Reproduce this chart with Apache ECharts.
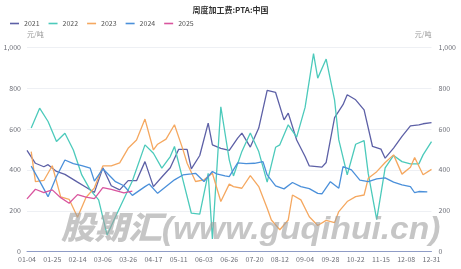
<!DOCTYPE html>
<html><head><meta charset="utf-8">
<script src="https://cdn.jsdelivr.net/npm/echarts@6/dist/echarts.min.js"></script>
<style>html,body{margin:0;padding:0;background:#fff}#c{width:461px;height:269px}</style>
</head><body><div id="c"></div>
<script>
const _ = null;
const titleText = '周度加工费:PTA:中国';
const unitText = '元/吨';
const watermarkText = '股期汇(www.guqihui.cn)';
const tickLabels = ['01-04','01-25','02-14','03-06','03-26','04-17','05-11','06-03','06-26','07-20','08-12','09-04','09-28','10-22','11-15','12-08','12-31'];
const years = ['2021','2022','2023','2024','2025'];
const yTicks = [0, 200, 400, 600, 800, 1000];

const v2021 = [495,_,432,_,415,425,_,392,_,378,
  _,_,340,_,315,_,290,_,410,_,
  322,_,302,_,347,_,347,_,440,_,
  318,_,365,_,410,_,500,_,500,405,
  _,470,_,628,522,_,505,_,495,_,
  555,579,_,511,_,604,_,788,_,778,
  _,644,677,_,546,_,465,419,_,_,
  413,436,_,655,_,718,767,_,742,_,
  693,_,514,_,501,457,_,506,_,563,
  _,615,_,620,625,_,631];
const v2022 = [_,604,_,701,_,636,_,538,_,579,
  _,497,_,375,_,302,_,253,_,82,
  _,_,215,_,_,345,_,_,522,_,
  481,_,408,_,465,514,_,351,_,188,
  _,184,_,383,62,_,708,_,449,370,
  _,490,_,580,_,489,_,340,_,510,
  522,_,620,_,560,_,705,_,968,848,
  _,941,_,740,546,_,375,_,525,_,
  543,380,_,157,_,410,_,470,_,440,
  _,429,_,429,473,_,538];
const v2023 = [_,489,342,_,348,_,420,_,268,_,
  256,_,168,_,265,_,312,_,419,_,
  419,_,434,_,505,_,546,_,648,_,
  497,525,_,550,_,620,_,500,432,_,
  343,_,351,_,383,_,245,_,330,318,
  _,310,_,372,_,318,_,212,155,_,
  107,_,155,277,_,253,_,171,_,128,
  _,153,_,142,196,_,245,_,269,_,
  277,359,_,391,_,436,_,473,_,379,
  _,412,460,_,376,_,402];
const v2024 = [_,418,_,345,_,269,_,367,_,448,
  _,430,_,420,_,408,345,_,405,_,
  _,342,_,322,_,275,_,_,318,331,
  _,285,_,318,_,351,_,375,_,380,
  383,_,343,_,392,380,_,370,367,_,
  434,_,430,_,432,_,440,375,_,322,
  _,307,_,338,_,318,_,308,_,285,
  283,_,342,_,310,416,_,400,_,350,
  _,342,_,356,_,361,_,340,_,326,
  _,318,288,294,_,292,_];
const v2025 = [258,_,305,_,289,_,302,_,264,_,
  237,_,279,_,267,_,259,_,313,_,
  304,_,_,287,_,296];

const seriesValues = [v2021, v2022, v2023, v2024, v2025];
const colors = ['#5d60a6', '#4ccabb', '#f5a860', '#4b90da', '#d9559e'];

// category axis: tick-label dates with evenly split in-between dates
const monthDays = [31,28,31,30,31,30,31,31,30,31,30,31];
function doy(s){ const m = +s.slice(0,2), d = +s.slice(3); let n = d; for (let i=0;i<m-1;i++) n += monthDays[i]; return n; }
function fmt(n){ let m = 0; while (n > monthDays[m]) { n -= monthDays[m]; m++; } return String(m+1).padStart(2,'0') + '-' + String(n).padStart(2,'0'); }
const STEPS = 6;
const categories = [];
for (let k = 0; k < tickLabels.length - 1; k++) {
  const a = doy(tickLabels[k]), b = doy(tickLabels[k+1]);
  for (let j = 0; j < STEPS; j++) categories.push(j === 0 ? tickLabels[k] : fmt(Math.round(a + (b - a) * j / STEPS)));
}
categories.push(tickLabels[tickLabels.length - 1]);

const FONT = '"Noto Sans CJK SC", "Noto Sans", sans-serif';
const chart = echarts.init(document.getElementById('c'), null, {renderer: 'canvas'});
const yAxisBase = {
  type: 'value', min: yTicks[0], max: yTicks[yTicks.length-1], interval: yTicks[1]-yTicks[0],
  name: unitText, nameLocation: 'end', nameGap: 9,
  axisLine: {show: false}, axisTick: {show: false},
  axisLabel: {fontSize: 7, color: '#6e7079', fontFamily: FONT,
    formatter: v => v.toLocaleString('en-US')}
};
chart.setOption({
  animation: false,
  textStyle: {fontFamily: FONT},
  title: {text: titleText, left: 'center', top: 1,
    textStyle: {fontSize: 8, fontWeight: 'bold', color: '#333', fontFamily: FONT}},
  legend: {data: years, left: 5, top: 15, icon: 'rect', itemWidth: 9, itemHeight: 1.6, itemGap: 9,
    textStyle: {fontSize: 7, color: '#555', fontFamily: FONT}},
  grid: {left: 27, right: 29.5, top: 47, bottom: 17.3, containLabel: false},
  xAxis: {
    type: 'category', data: categories, boundaryGap: false,
    axisLine: {lineStyle: {color: '#8f9cc6', width: 1}},
    axisTick: {show: false},
    axisLabel: {interval: STEPS - 1, fontSize: 7, color: '#6e7079', margin: 4, fontFamily: FONT},
    splitLine: {show: false}
  },
  yAxis: [
    Object.assign({}, yAxisBase, {position: 'left',
      nameTextStyle: {fontSize: 7, color: '#999', align: 'left', fontFamily: FONT},
      axisLabel: Object.assign({}, yAxisBase.axisLabel, {margin: 6}),
      splitLine: {lineStyle: {color: '#eef0f4', width: 1}}}),
    Object.assign({}, yAxisBase, {position: 'right',
      nameTextStyle: {fontSize: 7, color: '#999', align: 'right', fontFamily: FONT},
      axisLabel: Object.assign({}, yAxisBase.axisLabel, {margin: 7}),
      splitLine: {show: false}})
  ],
  graphic: [{
    type: 'text', left: 61, top: 214, z: 100, silent: true, scaleX: 1.05, originX: 0,
    style: {text: watermarkText, fontSize: 32, fontWeight: 900, fontStyle: 'italic',
      fontFamily: '"Liberation Sans", "Noto Sans CJK SC", sans-serif', fill: 'rgba(160,160,160,0.6)'}
  }],
  series: years.map((y, i) => ({
    name: y, type: 'line', data: seriesValues[i], yAxisIndex: 0,
    connectNulls: true, symbol: 'none', smooth: false,
    lineStyle: {width: 1.3, color: colors[i]}, itemStyle: {color: colors[i]}
  }))
});
</script></body></html>
